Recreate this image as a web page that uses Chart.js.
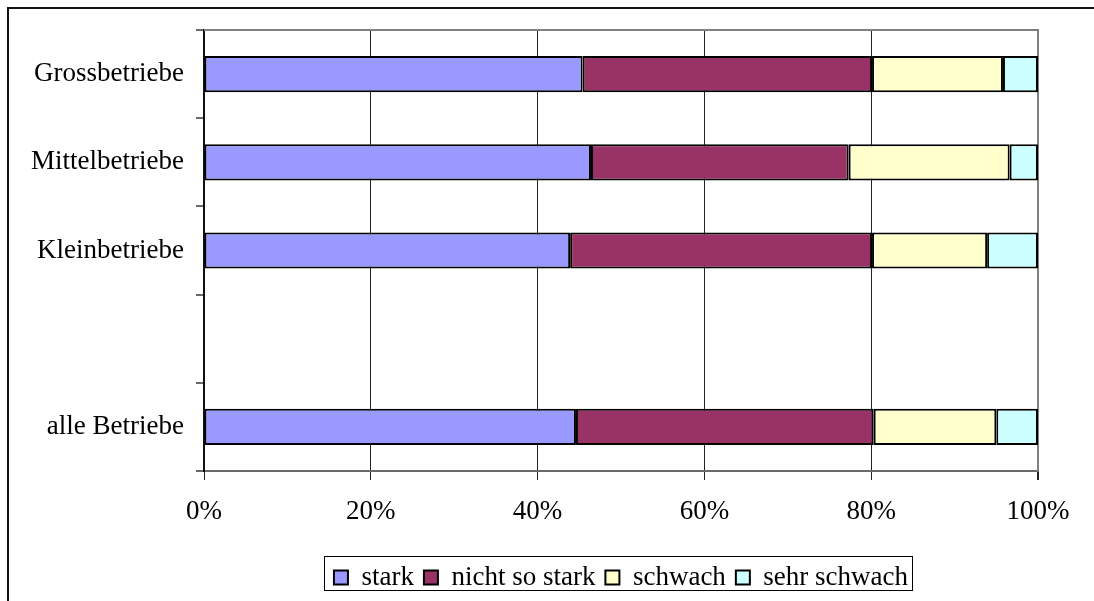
<!DOCTYPE html>
<html>
<head>
<meta charset="utf-8">
<title>Betriebe</title>
<script src="https://cdn.jsdelivr.net/npm/chart.js@4/dist/chart.umd.min.js"></script>
<style>
  html, body { margin: 0; padding: 0; background: #fff; }
  .wrap { position: relative; width: 1094px; height: 601px; overflow: hidden; }
  .frame { position: absolute; left: 7px; top: 7px; width: 1200px; height: 700px; border-top: 2px solid #111; border-left: 2px solid #111; }
  canvas { position: absolute; left: 0; top: 0; }
</style>
</head>
<body>
<div class="wrap">
  <div class="frame"></div>
  <canvas id="chart" width="1094" height="601"></canvas>
</div>
<script>
const categories = ['Grossbetriebe', 'Mittelbetriebe', 'Kleinbetriebe', '', 'alle Betriebe'];
const stark = [45.4, 46.4, 43.9, null, 44.6];
const nichtSoStark = [34.7, 30.9, 36.2, null, 35.7];
const schwach = [15.7, 19.3, 13.8, null, 14.7];
const sehrSchwach = [4.2, 3.4, 6.1, null, 5.0];
const xTicks = [0, 20, 40, 60, 80, 100];

const FONT = "'Liberation Serif', 'Times New Roman', serif";
const ctx = document.getElementById('chart').getContext('2d');

function series(label, data, color) {
  return {
    label,
    data,
    backgroundColor: color,
    borderColor: '#000',
    borderWidth: 2,
    borderSkipped: false,
    barPercentage: 0.41,
    categoryPercentage: 1,
  };
}

// gray frame along the top and right edge of the plot, box round the legend
const frames = {
  id: 'frames',
  beforeDatasetsDraw(chart) {
    const { ctx: c, chartArea: a } = chart;
    c.save();
    c.strokeStyle = '#808080';
    c.lineWidth = 2;
    c.beginPath();
    c.moveTo(a.left, a.top);
    c.lineTo(a.right, a.top);
    c.lineTo(a.right, a.bottom);
    c.stroke();
    c.restore();
  },
  afterDraw(chart) {
    const boxes = chart.legend.legendHitBoxes;
    if (!boxes.length) return;
    const first = boxes[0];
    const last = boxes[boxes.length - 1];
    const cy = first.top + first.height / 2;
    const c = chart.ctx;
    c.save();
    c.strokeStyle = '#000';
    c.lineWidth = 1;
    c.strokeRect(Math.round(first.left - 10) + 0.5, Math.round(cy - 22) + 0.5,
      Math.round(last.left + last.width - first.left + 14), 34);
    c.restore();
  },
};

const chart = new Chart(ctx, {
  type: 'bar',
  data: {
    labels: categories,
    datasets: [
      series('stark', stark, '#9999FF'),
      series('nicht so stark', nichtSoStark, '#993366'),
      series('schwach', schwach, '#FFFFCC'),
      series('sehr schwach', sehrSchwach, '#CCFFFF'),
    ],
  },
  options: {
    indexAxis: 'y',
    responsive: false,
    animation: false,
    layout: { padding: { top: 30, right: 56, left: 0, bottom: 0 } },
    scales: {
      x: {
        stacked: true,
        min: 0,
        max: 100,
        afterBuildTicks: (scale) => { scale.ticks = xTicks.map((v) => ({ value: v })); },
        afterFit: (scale) => { scale.height = 83; },
        ticks: {
          color: '#000',
          padding: 16,
          maxRotation: 0,
          font: { family: FONT, size: 27 },
          callback: (v) => `${v}%`,
        },
        grid: {
          color: (c) => (c.tick && c.tick.value === 100 ? '#808080' : '#222'),
          lineWidth: (c) => (c.tick && c.tick.value === 100 ? 2 : 1),
          tickColor: '#222',
          tickLength: 9,
        },
        border: { color: '#6a6a6a', width: 2 },
      },
      y: {
        stacked: true,
        afterFit: (scale) => { scale.width = 204; },
        ticks: {
          color: '#000',
          padding: 12,
          font: { family: FONT, size: 27 },
        },
        grid: {
          drawOnChartArea: false,
          offset: true,
          tickColor: '#6a6a6a',
          tickLength: 8,
          lineWidth: 2,
        },
        border: { color: '#111', width: 2 },
      },
    },
    plugins: {
      legend: {
        position: 'bottom',
        fullSize: false,
        labels: {
          color: '#000',
          boxWidth: 14,
          boxHeight: 14,
          padding: 10,
          font: { family: FONT, size: 27 },
        },
      },
      tooltip: { enabled: false },
    },
  },
  plugins: [frames],
});
</script>
</body>
</html>
